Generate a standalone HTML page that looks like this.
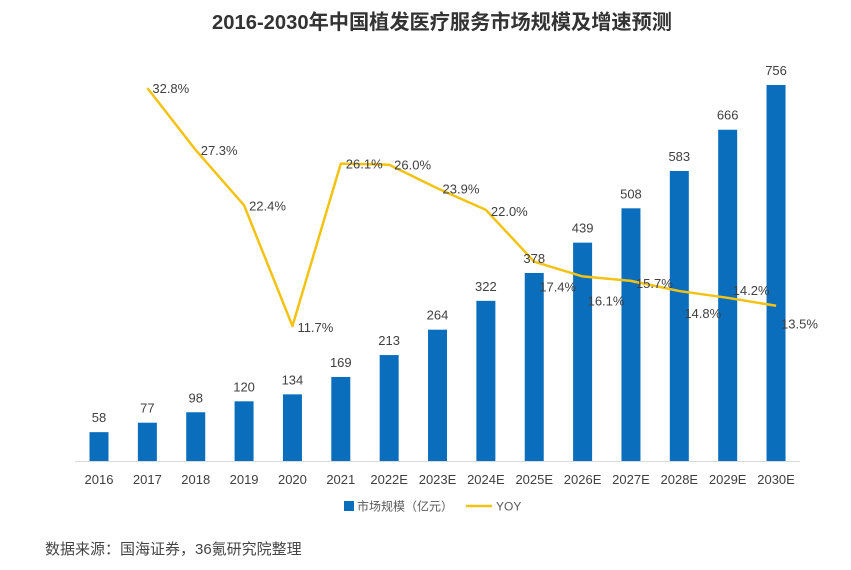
<!DOCTYPE html>
<html><head><meta charset="utf-8"><style>
body{margin:0;background:#fff;width:851px;height:570px;overflow:hidden;font-family:"Liberation Sans","Noto Sans CJK SC",sans-serif}
</style></head><body>
<svg id="c" width="851" height="570" style="position:absolute;left:0;top:0">
<text x="442" y="29" text-anchor="middle" font-size="20.2" font-weight="bold" fill="#333">2016-2030年中国植发医疗服务市场规模及增速预测</text>
<line x1="75" y1="461.5" x2="800" y2="461.5" stroke="#d9d9d9"/>
<g id="bars"></g><g id="line"></g><g id="labels"></g>
<rect x="344" y="501" width="10" height="10" fill="#0a6ebd"/>
<text x="357" y="510.5" font-size="12" fill="#595959">市场规模（亿元）</text>
<line x1="466" y1="506" x2="492" y2="506" stroke="#f2c314" stroke-width="2.5"/>
<text x="496" y="510.5" font-size="12" fill="#595959">YOY</text>
<text x="45" y="554" font-size="15" fill="#444">数据来源：国海证券，36氪研究院整理</text>
</svg>
<script>
const categories=["2016","2017","2018","2019","2020","2021","2022E","2023E","2024E","2025E","2026E","2027E","2028E","2029E","2030E"];
const marketSize=[58,77,98,120,134,169,213,264,322,378,439,508,583,666,756];
const yoy=[null,32.8,27.3,22.4,11.7,26.1,26.0,23.9,22.0,17.4,16.1,15.7,14.8,14.2,13.5];
const labelDy=[0,0,0,0,1,0,0,0,1,25,24,2,22,-8,18];
const NS="http://www.w3.org/2000/svg";
const xOf=i=>99+i*48.36;
const yBar=v=>461-v*0.4974;
const yLine=v=>458-v*11.28;
function mk(tag,attrs,parent){const e=document.createElementNS(NS,tag);for(const k in attrs)e.setAttribute(k,attrs[k]);document.getElementById(parent).appendChild(e);return e;}
categories.forEach((c,i)=>{
  const x=xOf(i),y=yBar(marketSize[i]);
  const b=mk('rect',{x:x-9.5,y:y,width:19,height:461-y,fill:'#0a6ebd'},'bars');
  
  
  const t=mk('text',{x:x,y:y-10,'text-anchor':'middle','font-size':13,fill:'#404040'},'labels');
  t.textContent=marketSize[i];
  
  
  const a=mk('text',{x:x,y:484,'text-anchor':'middle','font-size':13,fill:'#404040'},'labels');
  a.textContent=c;
  
  
});
let pts=[];
yoy.forEach((v,i)=>{if(v!==null)pts.push(xOf(i)+','+yLine(v));});
const pl=mk('polyline',{points:pts.join(' '),fill:'none',stroke:'#f2c314','stroke-width':2.5,'stroke-linejoin':'round'},'line');


yoy.forEach((v,i)=>{if(v===null)return;
  const t=mk('text',{x:xOf(i)+5,y:yLine(v)+labelDy[i]+5,'font-size':13,fill:'#404040'},'labels');
  t.textContent=v.toFixed(1)+'%';
  
  
});
</script>
</body></html>
